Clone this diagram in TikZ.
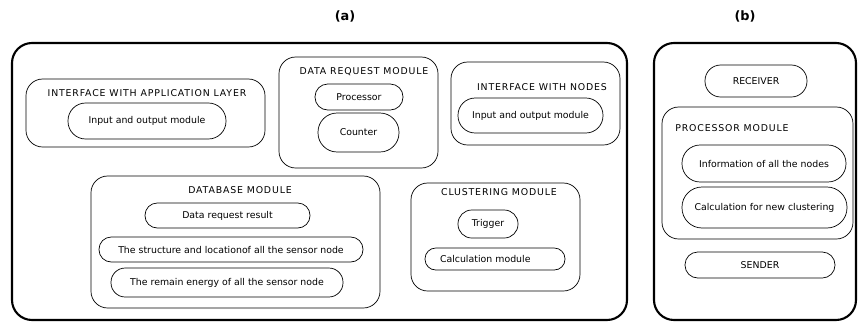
\documentclass[tikz,border=0pt]{standalone}
\usepackage{fontspec}
\setmainfont{DejaVu Sans}
\usepackage{tikz}

\tikzset{
  frame/.style n args={2}{draw, line width=1.8pt, rounded corners=0.6cm,
    minimum width=#1*0.03cm, minimum height=#2*0.03cm, inner sep=0pt},
  modbox/.style n args={2}{draw, line width=0.6pt, rounded corners=0.5cm,
    minimum width=#1*0.03cm, minimum height=#2*0.03cm, inner sep=0pt},
  pill/.style n args={2}{draw, line width=0.6pt, rounded corners=#2*0.0147cm,
    minimum width=#1*0.03cm, minimum height=#2*0.03cm, inner sep=0pt,
    font=\fontsize{8}{9}\selectfont},
  title/.style={font=\fontsize{8}{9}\selectfont\addfontfeature{LetterSpace=9}},
  tag/.style={font=\fontsize{11}{13}\selectfont\bfseries}
}

\begin{document}
\begin{tikzpicture}[x=0.03cm, y=-0.03cm]
			\useasboundingbox (0,0) rectangle (858,322);
			% labels
			\node[tag] (taga) at (345,16) {(a)};
			\node[tag] (tagb) at (745,16) {(b)};
			% (a)
			\node[frame={615}{277}] (outa) at (319.5,181.5) {};
			\node[modbox={239}{68}] (appbox) at (145.5,113) {};
			\node[title] (apptitle) at (147,93) {INTERFACE WITH APPLICATION LAYER};
			\node[pill={158}{36}] (appio) at (147,121) {Input and output module};
			\node[modbox={159}{111}] (reqbox) at (358.5,112.5) {};
			\node[title] (reqtitle) at (364,72) {DATA REQUEST MODULE};
			\node[pill={88}{26}] (proc) at (359,97) {Processor};
			\node[pill={81}{39}] (counter) at (358.5,132.5) {Counter};
			\node[modbox={169}{83}] (nodebox) at (535.5,103.5) {};
			\node[title] (nodetitle) at (542,87) {INTERFACE WITH NODES};
			\node[pill={145}{35}] (nodeio) at (530.5,115.5) {Input and output module};
			\node[modbox={289}{132}] (dbbox) at (235.5,242) {};
			\node[title] (dbtitle) at (240,190) {DATABASE MODULE};
			\node[pill={165}{25}] (dbres) at (227.5,215.5) {Data request result};
			\node[pill={264}{25}] (dbstruct) at (231,249.5) {The structure and locationof all the sensor node};
			\node[pill={232}{29}] (dbenergy) at (227,282.5) {The remain energy of all the sensor node};
			\node[modbox={169}{108}] (clbox) at (495.5,237) {};
			\node[title] (cltitle) at (499,192) {CLUSTERING MODULE};
			\node[pill={60}{28}] (trig) at (488,224) {Trigger};
			\node[pill={140}{22}, text width=3.9cm] (calcmod) at (495,259) {\hspace*{0.3cm}Calculation module};
			% (b)
			\node[frame={202}{277}] (outb) at (755,181.5) {};
			\node[pill={102}{32}] (recv) at (756,81) {RECEIVER};
			\node[modbox={191}{132}] (procbox) at (757.5,173) {};
			\node[title] (proctitle) at (732,128) {PROCESSOR MODULE};
			\node[pill={164}{37}] (info) at (764,163.5) {Information of all the nodes};
			\node[pill={165}{41}] (calcnew) at (764.5,207.5) {Calculation for new clustering};
			\node[pill={150}{26}] (sender) at (760,265) {SENDER};
		\end{tikzpicture}
\end{document}
